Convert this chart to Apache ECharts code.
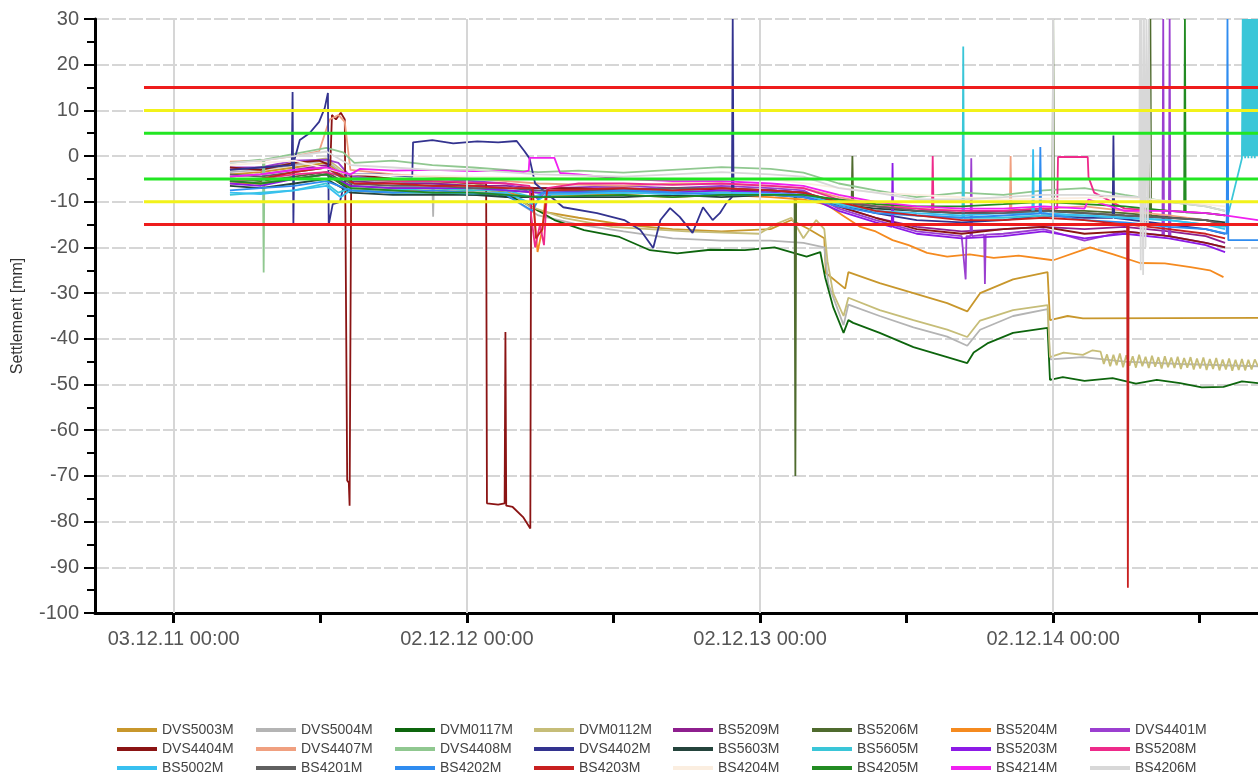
<!DOCTYPE html>
<html><head><meta charset="utf-8">
<script src="https://cdn.jsdelivr.net/npm/echarts@6/dist/echarts.min.js"></script>
<style>html,body{margin:0;padding:0;background:#fff}#c{width:1258px;height:778px}</style>
</head><body><div id="c"></div>
<script>
// ---------- axis / reference data ----------
const xMin = '2011-08-27', xMax = '2015-08-14';
const halfYearTicks = ['2011-12-03','2012-06-02','2012-12-02','2013-06-02','2013-12-02','2014-06-02','2014-12-02','2015-06-02'];
const yearLabels = ['2011-12-03','2012-12-02','2013-12-02','2014-12-02'];
const thresholdStart = '2011-10-27';
const thresholds = [15, 10, 5, -5, -10, -15];

const names = ['DVS5003M','DVS5004M','DVM0117M','DVM0112M','BS5209M','BS5206M','BS5204M','DVS4401M',
  'DVS4404M','DVS4407M','DVS4408M','DVS4402M','BS5603M','BS5605M','BS5203M','BS5208M',
  'BS5002M','BS4201M','BS4202M','BS4203M','BS4204M','BS4205M','BS4214M','BS4206M'];

// ---------- series values [date, settlement mm] ----------
const DVS5003M = [['2012-02-11',-4],['2012-03-20',-3.5],['2012-05-01',-2.5],['2012-06-10',-1.5],['2012-07-10',-5],['2012-09-01',-5.5],['2012-10-20',-6],['2012-12-10',-6.5],['2013-01-20',-8],['2013-03-01',-12],['2013-04-20',-13.5],['2013-06-15',-15],['2013-08-15',-16],['2013-10-15',-16.5],['2013-12-15',-16],['2014-01-10',-14],['2014-02-01',-16],['2014-02-20',-18],['2014-02-22',-25.6],['2014-03-18',-29],['2014-03-22',-25.4],['2014-04-30',-27.8],['2014-06-11',-30],['2014-07-23',-32.2],['2014-08-17',-34],['2014-09-02',-30],['2014-10-13',-27],['2014-11-25',-25.4],['2014-11-28',-35.9],['2014-12-20',-35],['2015-01-08',-35.5],['2015-08-14',-35.4]];
const DVS5004M = [['2012-02-11',-3.5],['2012-03-20',-3],['2012-05-01',-2],['2012-06-10',-1],['2012-07-10',-5],['2012-09-01',-5.5],['2012-10-20',-6],['2012-10-21',-13.3],['2012-10-22',-6],['2012-12-10',-6.5],['2013-01-20',-8.5],['2013-03-01',-13],['2013-04-20',-15],['2013-06-15',-16.5],['2013-08-15',-18],['2013-10-15',-18.5],['2013-12-15',-18.5],['2014-01-25',-19],['2014-02-20',-20],['2014-02-25',-28],['2014-03-16',-37],['2014-03-22',-32.5],['2014-04-30',-35],['2014-06-11',-37.5],['2014-07-23',-39.5],['2014-08-17',-41.5],['2014-09-02',-38],['2014-10-13',-35],['2014-11-25',-33.5],['2014-11-28',-44.5],['2015-01-08',-44],['2015-03-01',-45],['2015-05-10',-45.5],['2015-08-14',-46]];
const DVM0117M = [['2012-02-11',-5.5],['2012-03-20',-6],['2012-05-01',-5],['2012-06-10',-4],['2012-07-10',-7.5],['2012-09-01',-8],['2012-10-20',-8],['2012-12-10',-8.5],['2013-01-10',-8.5],['2013-02-06',-9.6],['2013-03-21',-14],['2013-04-27',-16.2],['2013-06-10',-17.7],['2013-07-18',-20.6],['2013-08-21',-21.3],['2013-10-01',-20.5],['2013-11-13',-20.6],['2013-12-20',-20],['2014-01-29',-22],['2014-02-15',-21],['2014-02-21',-26.5],['2014-03-03',-33],['2014-03-16',-38.7],['2014-03-22',-35.9],['2014-03-28',-36.5],['2014-04-30',-38.7],['2014-06-11',-41.8],['2014-07-23',-44],['2014-08-17',-45.3],['2014-08-25',-43],['2014-09-11',-41],['2014-10-13',-38.7],['2014-11-25',-37.6],['2014-11-28',-49],['2014-12-14',-48.4],['2015-01-10',-49.2],['2015-02-14',-48.6],['2015-03-15',-49.8],['2015-04-10',-49],['2015-05-09',-49.7],['2015-06-05',-50.6],['2015-07-02',-50.5],['2015-07-25',-49.3],['2015-08-14',-49.7]];
const DVM0112M = [['2012-02-11',-3],['2012-03-20',-2.5],['2012-05-01',-1.5],['2012-06-10',-0.5],['2012-07-10',-4.5],['2012-09-01',-5],['2012-10-20',-5.5],['2012-12-10',-6],['2013-01-20',-7.5],['2013-02-18',-11],['2013-04-01',-13.5],['2013-06-01',-15.5],['2013-09-01',-16.5],['2013-12-01',-17],['2013-12-20',-15],['2014-01-10',-13.5],['2014-01-25',-18],['2014-02-10',-14],['2014-02-20',-16],['2014-02-24',-23],['2014-03-03',-30],['2014-03-16',-35],['2014-03-22',-31],['2014-04-30',-33.7],['2014-06-11',-35.9],['2014-07-23',-38],['2014-08-17',-39.6],['2014-09-02',-36],['2014-10-13',-33.7],['2014-11-25',-32.6],['2014-11-28',-44],['2014-12-15',-43],['2015-01-08',-43.5],['2015-01-20',-42.5],['2015-01-30',-42.8],['2015-02-03',-45.5],['2015-02-07',-43.4],['2015-02-11',-46],['2015-02-15',-43.5],['2015-02-19',-45.8],['2015-02-23',-43.2],['2015-02-27',-46.2],['2015-03-03',-43.6],['2015-03-07',-45.9],['2015-03-11',-43.8],['2015-03-15',-46.3],['2015-03-19',-43.5],['2015-03-23',-46],['2015-03-27',-43.9],['2015-03-31',-46.4],['2015-04-04',-43.7],['2015-04-08',-46.1],['2015-04-12',-44],['2015-04-16',-46.5],['2015-04-20',-43.8],['2015-04-24',-46.2],['2015-04-28',-44.1],['2015-05-02',-46.4],['2015-05-06',-43.9],['2015-05-10',-46.6],['2015-05-14',-44.2],['2015-05-18',-46.3],['2015-05-22',-44],['2015-05-26',-46.7],['2015-05-30',-44.3],['2015-06-03',-46.5],['2015-06-07',-44.1],['2015-06-11',-46.8],['2015-06-15',-44.4],['2015-06-19',-46.6],['2015-06-23',-44.2],['2015-06-27',-46.9],['2015-07-01',-44.5],['2015-07-05',-46.7],['2015-07-09',-44.3],['2015-07-13',-47],['2015-07-17',-44.6],['2015-07-21',-46.8],['2015-07-25',-44.4],['2015-07-29',-46.9],['2015-08-02',-44.6],['2015-08-06',-46.7],['2015-08-10',-44.5],['2015-08-14',-46]];
const BS5209M = [['2012-02-11',-4.5],['2012-03-20',-4],['2012-05-01',-3],['2012-06-10',-2],['2012-07-10',-5.5],['2012-09-01',-6],['2012-10-20',-6],['2012-12-10',-6.5],['2013-01-20',-6.5],['2013-03-01',-7],['2013-06-15',-7],['2013-08-15',-7.5],['2013-10-15',-7],['2013-12-15',-7.5],['2014-01-25',-8],['2014-03-10',-11],['2014-04-25',-13.5],['2014-06-15',-15.5],['2014-08-10',-16.5],['2014-10-01',-16],['2014-11-20',-15.5],['2015-01-10',-16],['2015-03-01',-15.5],['2015-04-25',-16.5],['2015-06-10',-17.5],['2015-07-04',-19]];
const BS5206M = [['2012-02-11',-5],['2012-03-20',-5.5],['2012-05-01',-4.5],['2012-06-10',-3.5],['2012-07-10',-6.5],['2012-09-01',-7],['2012-10-20',-7],['2012-12-10',-7.5],['2013-01-20',-7.5],['2013-03-01',-8],['2013-06-15',-8],['2013-08-15',-7.5],['2013-10-15',-8],['2013-12-15',-8],['2014-01-14',-8.5],['2014-01-15',-70],['2014-01-16',-8.5],['2014-03-10',-10],['2014-03-26',-10.3],['2014-03-27',0],['2014-03-28',-10.5],['2014-04-25',-11],['2014-06-15',-12],['2014-08-10',-12.5],['2014-10-01',-12],['2014-11-20',-11.5],['2014-12-01',-12],['2014-12-02',30],['2014-12-03',-12],['2015-01-10',-12],['2015-03-01',-12.5],['2015-04-01',-13],['2015-04-02',30],['2015-04-03',-13],['2015-06-10',-14],['2015-07-04',-15]];
const BS5204M = [['2012-02-11',-6],['2012-03-20',-6],['2012-05-01',-5],['2012-06-10',-4],['2012-07-10',-7],['2012-09-01',-7.5],['2012-10-20',-7.5],['2012-12-10',-8],['2013-01-20',-8],['2013-02-22',-9],['2013-02-28',-21],['2013-03-06',-16],['2013-03-10',-8.5],['2013-06-15',-8.5],['2013-08-15',-9],['2013-10-15',-8.5],['2013-12-15',-9],['2014-01-25',-9.5],['2014-02-24',-10.7],['2014-03-15',-13],['2014-04-06',-15.5],['2014-04-25',-16.5],['2014-05-16',-18.4],['2014-06-05',-19.5],['2014-06-28',-21.2],['2014-07-23',-22],['2014-08-20',-21.5],['2014-09-19',-22.3],['2014-10-20',-21.8],['2014-12-02',-22.8],['2015-01-17',-20],['2015-02-15',-21.5],['2015-03-20',-23.4],['2015-04-20',-23.5],['2015-05-22',-24.3],['2015-06-15',-25],['2015-07-02',-26.5]];
const DVS4401M = [['2012-02-11',-2.5],['2012-03-20',-2.5],['2012-05-01',-1],['2012-06-10',-0.8],['2012-06-25',-1.5],['2012-07-10',-4.5],['2012-09-01',-5],['2012-10-20',-5],['2012-12-10',-5.5],['2013-01-20',-6],['2013-02-20',-8],['2013-03-01',-9.5],['2013-03-15',-7],['2013-06-15',-6.5],['2013-08-15',-7],['2013-10-15',-6.5],['2013-12-15',-7],['2014-01-25',-7.5],['2014-03-10',-11.5],['2014-04-25',-14],['2014-06-15',-16.5],['2014-08-10',-17.5],['2014-08-15',-27],['2014-08-16',-17.5],['2014-08-21',-17.5],['2014-08-22',-0.5],['2014-08-23',-17.5],['2014-09-07',-17.2],['2014-09-08',-28],['2014-09-09',-17.2],['2014-10-01',-17],['2014-11-20',-16],['2015-01-10',-18.5],['2015-03-01',-16.5],['2015-04-17',-17.3],['2015-04-18',30],['2015-04-19',-17.4],['2015-04-25',-17.5],['2015-04-26',30],['2015-04-27',-17.6],['2015-06-10',-19],['2015-07-04',-20]];
const DVS4404M = [['2012-02-11',-2.5],['2012-03-20',-3],['2012-05-01',-1.5],['2012-06-01',-1],['2012-06-15',-2],['2012-06-17',9],['2012-06-22',8],['2012-06-28',9.5],['2012-07-03',8],['2012-07-06',-71],['2012-07-08',-71.5],['2012-07-09',-76.5],['2012-07-11',-4],['2012-09-01',-5],['2012-10-20',-5.5],['2012-12-20',-6],['2012-12-26',-6],['2012-12-27',-76],['2013-01-10',-76.3],['2013-01-18',-76],['2013-01-19',-38.5],['2013-01-20',-76.5],['2013-01-28',-76.8],['2013-02-10',-79],['2013-02-19',-81.5],['2013-02-20',-7],['2013-04-20',-7],['2013-06-15',-7.5],['2013-08-15',-7],['2013-10-15',-7.5],['2013-12-15',-7.5],['2014-01-25',-8],['2014-03-10',-11],['2014-04-25',-13.5],['2014-06-15',-16],['2014-08-10',-17],['2014-10-01',-16],['2014-11-20',-15.5],['2015-01-10',-17],['2015-03-01',-16.5],['2015-04-25',-17.5],['2015-06-10',-19],['2015-07-04',-20]];
const DVS4407M = [['2012-02-11',-1.2],['2012-03-20',-1],['2012-05-01',0],['2012-06-01',1],['2012-06-14',8],['2012-06-25',9],['2012-07-03',7.5],['2012-07-10',-3],['2012-09-01',-4],['2012-10-20',-4.5],['2012-12-10',-5],['2013-01-20',-5.5],['2013-03-01',-6],['2013-06-15',-6.5],['2013-08-15',-6],['2013-10-15',-6],['2013-12-15',-6.5],['2014-01-25',-7],['2014-03-10',-9],['2014-04-25',-10.5],['2014-06-15',-11.5],['2014-08-10',-12],['2014-10-09',-12],['2014-10-10',0],['2014-10-11',-12],['2014-11-20',-11.5],['2015-01-10',-11],['2015-03-01',-12],['2015-04-25',-13],['2015-06-10',-14],['2015-07-04',-15]];
const DVS4408M = [['2012-02-11',-1.5],['2012-03-20',-0.8],['2012-03-23',-1],['2012-03-24',-25.5],['2012-03-25',-0.8],['2012-05-01',0.5],['2012-06-10',1.8],['2012-07-01',0.8],['2012-07-15',-1.5],['2012-09-01',-1],['2012-10-20',-2],['2012-12-10',-2.5],['2013-01-20',-3],['2013-03-01',-3.5],['2013-04-20',-3.2],['2013-06-15',-3.6],['2013-08-15',-3],['2013-10-15',-2.4],['2013-12-15',-2.8],['2014-01-25',-3.6],['2014-03-10',-6],['2014-04-25',-7.5],['2014-06-15',-9],['2014-08-10',-8],['2014-10-01',-8.5],['2014-11-20',-7.5],['2015-01-10',-7],['2015-03-01',-8.5],['2015-04-25',-10],['2015-06-10',-11],['2015-07-04',-12]];
const DVS4402M = [['2012-02-11',-3],['2012-03-20',-2.5],['2012-04-28',-2],['2012-04-29',14],['2012-04-30',-15],['2012-05-01',-1],['2012-05-08',3.5],['2012-05-20',5],['2012-06-01',7.5],['2012-06-08',10.5],['2012-06-12',13.8],['2012-06-13',-15],['2012-06-18',-10.5],['2012-06-27',-10],['2012-07-05',-4],['2012-08-15',-4],['2012-09-25',-4.5],['2012-09-26',3],['2012-10-20',3.5],['2012-11-15',2.8],['2012-12-15',3.2],['2013-01-10',3],['2013-02-02',3.3],['2013-02-12',1],['2013-02-18',-0.5],['2013-02-25',-6],['2013-04-01',-11.2],['2013-05-13',-12.5],['2013-06-16',-14],['2013-07-06',-16.2],['2013-07-22',-20.1],['2013-07-31',-14],['2013-08-12',-11.4],['2013-08-24',-13.3],['2013-09-09',-16.8],['2013-09-22',-11.2],['2013-10-04',-14],['2013-10-13',-12.5],['2013-10-21',-10.3],['2013-10-28',-9],['2013-10-29',30],['2013-10-30',-8],['2013-12-15',-7.5],['2014-01-25',-8],['2014-03-10',-10.5],['2014-04-25',-12.5],['2014-06-15',-14],['2014-08-10',-14.5],['2014-10-01',-14],['2014-11-20',-13],['2015-01-10',-13.5],['2015-02-14',-13.5],['2015-02-15',4.5],['2015-02-16',-13.5],['2015-04-25',-15],['2015-06-10',-16],['2015-07-04',-17]];
const BS5603M = [['2012-02-11',-6.5],['2012-03-20',-7],['2012-05-01',-6],['2012-06-10',-5],['2012-07-10',-8],['2012-09-01',-8.5],['2012-10-20',-8.5],['2012-12-10',-8.5],['2013-01-20',-9],['2013-03-01',-9],['2013-06-15',-9],['2013-08-15',-8.5],['2013-10-15',-9],['2013-12-15',-8.5],['2014-01-25',-9],['2014-03-10',-10.5],['2014-04-25',-11.5],['2014-06-15',-12],['2014-08-10',-12.5],['2014-10-01',-12],['2014-11-20',-12],['2015-01-10',-12.5],['2015-03-01',-13],['2015-04-25',-13.5],['2015-06-10',-14],['2015-07-04',-14.5]];
const BS5605M = [['2012-02-11',-8.5],['2012-03-20',-8],['2012-05-01',-7.5],['2012-06-10',-6],['2012-06-25',-8],['2012-07-10',-7],['2012-09-01',-7.5],['2012-10-20',-7],['2012-12-10',-7.5],['2013-01-20',-7.5],['2013-02-22',-9],['2013-03-10',-8],['2013-06-15',-8],['2013-08-15',-7.5],['2013-10-15',-8],['2013-12-15',-8],['2014-01-25',-8.5],['2014-03-10',-10.5],['2014-04-25',-12],['2014-06-15',-13],['2014-08-11',-13.5],['2014-08-12',24],['2014-08-13',-13.5],['2014-10-01',-13.5],['2014-11-20',-13],['2015-01-10',-13],['2015-03-01',-13.5],['2015-04-25',-14],['2015-06-10',-15],['2015-07-04',-15.5],['2015-07-25',-0.5],['2015-07-26',30],['2015-07-27',0],['2015-07-28',30],['2015-07-29',-0.5],['2015-07-30',30],['2015-07-31',0],['2015-08-01',30],['2015-08-02',-0.5],['2015-08-03',30],['2015-08-04',0],['2015-08-05',30],['2015-08-06',-0.5],['2015-08-07',30],['2015-08-08',0],['2015-08-09',30],['2015-08-10',-0.5],['2015-08-11',30],['2015-08-12',0],['2015-08-13',30],['2015-08-14',0]];
const BS5203M = [['2012-02-11',-6],['2012-03-20',-6.5],['2012-05-01',-5],['2012-06-10',-4],['2012-07-10',-6.5],['2012-09-01',-7],['2012-10-20',-7],['2012-12-10',-7],['2013-01-20',-7.5],['2013-03-01',-8],['2013-06-15',-7.5],['2013-08-15',-8],['2013-10-15',-7.5],['2013-12-15',-8],['2014-01-25',-8.5],['2014-03-10',-12],['2014-04-25',-14.5],['2014-05-15',-15.5],['2014-05-16',-1.5],['2014-05-17',-15.5],['2014-06-15',-17],['2014-08-10',-18],['2014-10-01',-17.5],['2014-11-20',-16.5],['2015-01-10',-18],['2015-03-01',-17],['2015-04-25',-18],['2015-06-10',-19.5],['2015-07-04',-21]];
const BS5208M = [['2012-02-11',-5.5],['2012-03-20',-5],['2012-05-01',-4],['2012-06-10',-3.5],['2012-07-10',-5],['2012-09-01',-5.5],['2012-10-20',-5.5],['2012-12-10',-5.8],['2013-01-20',-6],['2013-02-18',-6.5],['2013-02-20',-13],['2013-02-25',-20],['2013-03-03',-15],['2013-03-08',-19.5],['2013-03-12',-7],['2013-04-20',-6],['2013-06-15',-6],['2013-08-15',-6.3],['2013-10-15',-6],['2013-12-15',-6.5],['2014-01-25',-7],['2014-03-10',-9.5],['2014-04-25',-11],['2014-06-15',-11.5],['2014-07-04',-11.8],['2014-07-05',0],['2014-07-06',-11.8],['2014-08-10',-12],['2014-10-01',-12],['2014-11-20',-11.5],['2014-12-07',-11.5],['2014-12-08',-0.2],['2015-01-14',-0.2],['2015-01-15',-4.6],['2015-01-22',-8],['2015-03-01',-11.5],['2015-04-25',-12],['2015-06-10',-12.5],['2015-07-04',-13]];
const BS5002M = [['2012-02-11',-8],['2012-03-20',-8.3],['2012-05-01',-7.5],['2012-06-10',-6.5],['2012-06-28',-9],['2012-07-10',-7.5],['2012-09-01',-8],['2012-10-20',-8],['2012-12-10',-8.2],['2013-01-20',-8],['2013-02-22',-10.5],['2013-03-10',-8.5],['2013-06-15',-8],['2013-08-15',-8.3],['2013-10-15',-8],['2013-12-15',-8.2],['2014-01-25',-8.5],['2014-03-10',-10.5],['2014-04-25',-12],['2014-06-15',-12.5],['2014-08-10',-13],['2014-10-01',-12.5],['2014-11-06',-12.5],['2014-11-07',1.5],['2014-11-08',-12.5],['2014-11-20',-12.5],['2015-01-10',-13],['2015-03-01',-13.5],['2015-04-25',-14],['2015-06-10',-15],['2015-07-04',-16]];
const BS4201M = [['2012-02-11',-4],['2012-03-20',-4.5],['2012-05-01',-3.5],['2012-06-10',-2.5],['2012-07-10',-6],['2012-09-01',-6.5],['2012-10-20',-6.5],['2012-12-10',-7],['2013-01-20',-7],['2013-03-01',-7.5],['2013-06-15',-7.5],['2013-08-15',-7],['2013-10-15',-7],['2013-12-15',-7.5],['2014-01-25',-8],['2014-03-10',-10],['2014-04-25',-11],['2014-06-15',-12],['2014-08-10',-12.5],['2014-10-01',-12.5],['2014-11-20',-12],['2015-01-10',-12.5],['2015-03-01',-13],['2015-04-25',-13.5],['2015-06-10',-14],['2015-07-04',-15]];
const BS4202M = [['2012-02-11',-7.5],['2012-03-20',-7],['2012-05-01',-6.5],['2012-06-10',-5.5],['2012-07-10',-7.5],['2012-09-01',-8],['2012-10-20',-7.5],['2012-12-10',-8],['2013-01-20',-8.5],['2013-02-22',-12],['2013-03-05',-8],['2013-04-20',-8],['2013-06-15',-7.5],['2013-08-15',-8],['2013-10-15',-8.5],['2013-12-15',-8.5],['2014-01-25',-9],['2014-03-10',-11],['2014-04-25',-12.5],['2014-06-15',-13],['2014-08-10',-13.5],['2014-10-01',-13],['2014-11-15',-12.6],['2014-11-16',2],['2014-11-17',-12.6],['2014-11-20',-12.5],['2015-01-10',-14],['2015-03-01',-14.5],['2015-04-25',-15.5],['2015-06-10',-16],['2015-07-06',-17],['2015-07-07',30],['2015-07-08',-18.4],['2015-08-14',-18.4]];
const BS4203M = [['2012-02-11',-5],['2012-03-20',-5],['2012-05-01',-3.5],['2012-06-10',-2.5],['2012-07-15',-6],['2012-09-01',-6],['2012-10-20',-6.5],['2012-12-10',-6.5],['2013-01-20',-7],['2013-02-22',-7],['2013-02-26',-18],['2013-03-06',-16],['2013-03-12',-7.5],['2013-06-15',-7],['2013-08-15',-7.5],['2013-10-15',-7],['2013-12-15',-7.5],['2014-01-25',-8],['2014-03-10',-10],['2014-04-25',-12],['2014-06-15',-13],['2014-08-10',-14],['2014-10-01',-14],['2014-11-20',-13.5],['2015-01-10',-14],['2015-03-04',-15],['2015-03-05',-94.5],['2015-03-06',-15],['2015-04-25',-16],['2015-06-10',-17],['2015-07-04',-18]];
const BS4204M = [['2012-02-11',-2],['2012-05-01',-1],['2012-07-10',-4],['2012-12-10',-4.5],['2013-06-15',-5],['2013-12-15',-5],['2014-04-25',-8],['2014-10-01',-9.5],['2015-03-01',-9],['2015-07-04',-11]];
const BS4205M = [['2012-02-11',-5.5],['2012-03-20',-6],['2012-05-01',-5],['2012-06-10',-4],['2012-07-10',-7],['2012-09-01',-7.5],['2012-10-20',-8],['2012-12-10',-8],['2013-01-20',-8.5],['2013-03-01',-9],['2013-06-15',-8.5],['2013-08-15',-9],['2013-10-15',-8.5],['2013-12-15',-8.5],['2014-01-25',-8.5],['2014-03-10',-9.5],['2014-04-25',-10.5],['2014-06-15',-11],['2014-08-10',-11],['2014-10-01',-10.5],['2014-11-20',-10],['2015-01-10',-10.5],['2015-03-01',-11],['2015-04-25',-12],['2015-05-14',-12.2],['2015-05-15',30],['2015-05-16',-12.3],['2015-06-10',-12.5],['2015-07-04',-13]];
const BS4214M = [['2012-02-11',-4.5],['2012-03-20',-4],['2012-05-01',-3],['2012-06-10',-2.5],['2012-07-10',-4],['2012-07-22',-2.8],['2012-09-01',-3.2],['2012-10-20',-3],['2012-12-10',-3.3],['2013-01-20',-3.2],['2013-02-10',-3.5],['2013-02-17',-3.2],['2013-02-18',-0.4],['2013-03-21',-0.4],['2013-03-28',-3.7],['2013-04-20',-4],['2013-06-15',-5],['2013-08-15',-5.5],['2013-10-15',-5.5],['2013-12-15',-6],['2014-01-25',-6.5],['2014-03-10',-8.5],['2014-04-25',-10],['2014-06-15',-11],['2014-08-10',-11.5],['2014-10-01',-11.5],['2014-11-20',-11],['2015-01-10',-11.5],['2015-01-15',-9.5],['2015-03-01',-12],['2015-04-25',-12],['2015-06-10',-12.5],['2015-07-04',-13],['2015-08-14',-14]];
const BS4206M = [['2012-02-11',-1.5],['2012-03-20',-1],['2012-05-01',0],['2012-06-10',1],['2012-07-10',-2],['2012-09-01',-2.5],['2012-10-20',-3],['2012-12-10',-3],['2013-01-20',-3.5],['2013-03-01',-4],['2013-06-15',-4.5],['2013-08-15',-4],['2013-10-15',-3.5],['2013-12-15',-4],['2014-01-25',-4.5],['2014-03-10',-7],['2014-04-25',-8],['2014-06-15',-9.5],['2014-08-10',-9.5],['2014-10-01',-9],['2014-11-20',-8.5],['2015-01-10',-8.5],['2015-03-19',-9],['2015-03-20',30],['2015-03-21',-25],['2015-03-22',30],['2015-03-24',-26],['2015-03-25',30],['2015-03-27',-20],['2015-03-28',30],['2015-03-30',-15],['2015-03-31',30],['2015-04-02',-10],['2015-04-25',-10],['2015-06-10',-11],['2015-07-04',-12]];

const seriesValues = [DVS5003M, DVS5004M, DVM0117M, DVM0112M, BS5209M, BS5206M, BS5204M, DVS4401M,
  DVS4404M, DVS4407M, DVS4408M, DVS4402M, BS5603M, BS5605M, BS5203M, BS5208M,
  BS5002M, BS4201M, BS4202M, BS4203M, BS4204M, BS4205M, BS4214M, BS4206M];

// ---------- styles ----------
const colors = ['#c8972c','#b4b4b4','#0d650d','#c6bd78','#8e1f8e','#4f6b2e','#f58a1f','#9b3fd0',
  '#8b1414','#f0a080','#90c890','#33338f','#24443c','#3ac6d8','#8c1ae6','#ee2a8a',
  '#38c0f0','#606060','#2f8cf0','#c82020','#fbeee0','#228b22','#f020f0','#d8d8d8'];
const thresholdColors = ['#ee1c1c','#f2f21a','#22e622','#22e622','#f2f21a','#ee1c1c'];
const FONT = '"Liberation Sans", Arial, sans-serif';

const t = s => Date.parse(s);
const pad = n => (n < 10 ? '0' : '') + n;
const fmt = v => { const d = new Date(v); return pad(d.getUTCDate()) + '.' + pad(d.getUTCMonth()+1) + '.' + pad(d.getUTCFullYear()%100) + ' 00:00'; };

const series = [];
series.push({
  type: 'line', name: '_grid', data: [], z: 1, silent: true,
  markLine: { silent: true, symbol: 'none', label: { show: false },
    lineStyle: { color: '#d6d6d6', width: 2, type: 'solid' },
    data: yearLabels.map(d => ({ xAxis: t(d) })) }
});
names.forEach((n, i) => {
  series.push({
    type: 'line', name: n, showSymbol: false, symbol: 'none', z: 2,
    lineStyle: { width: 1.8, color: colors[i] }, itemStyle: { color: colors[i] },
    data: seriesValues[i].map(p => [t(p[0]), p[1]])
  });
});
thresholds.forEach((v, i) => {
  series.push({
    type: 'line', name: '_th' + i, showSymbol: false, symbol: 'none', z: 5, silent: true,
    lineStyle: { width: 3, color: thresholdColors[i] },
    data: [[t(thresholdStart), v], [t(xMax), v]]
  });
});

const chart = echarts.init(document.getElementById('c'), null, { renderer: 'canvas' });
chart.setOption({
  animation: false,
  backgroundColor: '#fff',
  grid: { left: 95, right: 0, top: 19, bottom: 165, containLabel: false, outerBoundsMode: 'none' },
  xAxis: {
    type: 'value', min: t(xMin), max: t(xMax),
    axisLine: { show: true, onZero: false, lineStyle: { color: '#000', width: 3 } },
    axisTick: { show: true, length: 10, lineStyle: { color: '#000', width: 3 }, customValues: halfYearTicks.map(t) },
    axisLabel: { show: true, customValues: yearLabels.map(t), formatter: fmt, color: '#555', fontSize: 20, fontFamily: FONT, margin: 16 },
    splitLine: { show: false }
  },
  yAxis: {
    type: 'value', min: -100, max: 30, interval: 10,
    name: 'Settlement [mm]', nameLocation: 'middle', nameGap: 69,
    nameTextStyle: { color: '#333', fontSize: 16, fontFamily: FONT },
    axisLine: { show: true, onZero: false, lineStyle: { color: '#000', width: 3 } },
    axisTick: { show: true, length: 11, lineStyle: { color: '#000', width: 2 } },
    minorTick: { show: true, splitNumber: 2, length: 8, lineStyle: { color: '#000', width: 2 } },
    axisLabel: { color: '#555', fontSize: 20, fontFamily: FONT, margin: 16 },
    splitLine: { show: true, lineStyle: { color: '#d6d6d6', width: 2, type: [14, 3] } }
  },
  legend: {
    data: names, left: 117, top: 723, width: 1115, padding: 0,
    icon: 'rect', itemWidth: 40, itemHeight: 4, itemGap: 5,
    textStyle: { fontFamily: FONT, fontSize: 14, color: '#444', width: 89, lineHeight: 14 }
  },
  series: series
});
</script>
</body></html>
